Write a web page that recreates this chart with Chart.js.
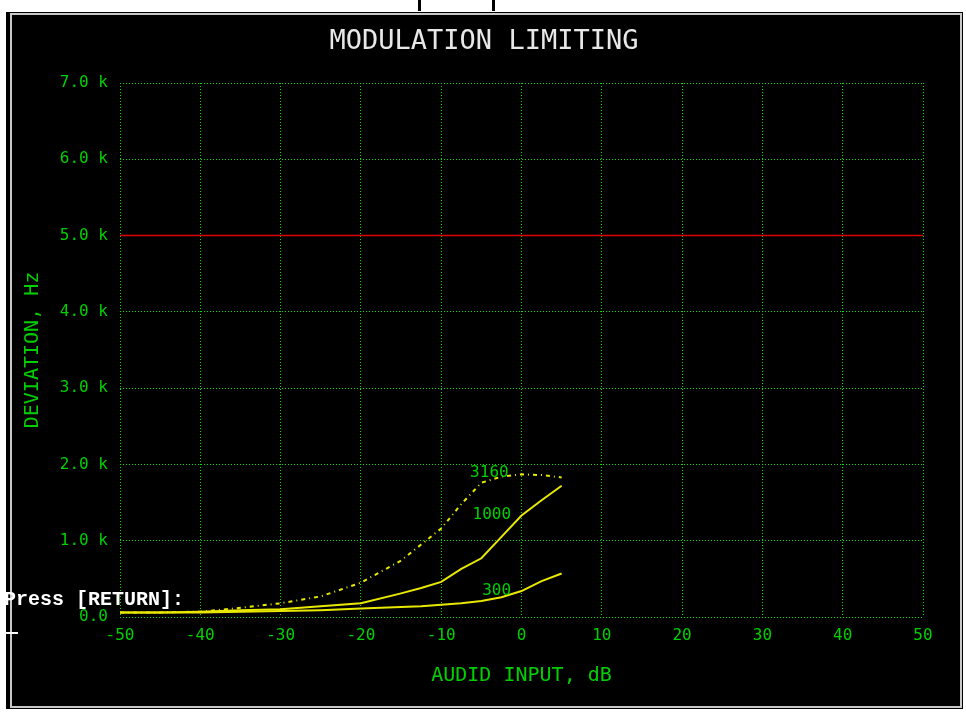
<!DOCTYPE html>
<html>
<head>
<meta charset="utf-8">
<title>Modulation Limiting</title>
<script src="https://cdn.jsdelivr.net/npm/chart.js@4"></script>
<style>
  html, body { margin: 0; padding: 0; background: #fff; overflow: hidden; }
  canvas { display: block; }
</style>
</head>
<body>
<canvas id="plot" width="966" height="713"></canvas>
<script>
// audio input level (dB)
const inputDb = [-50, -45, -40, -35, -30, -25, -20, -15, -12.5, -10, -7.5, -5, -2.5, 0, 2.5, 5];

// deviation (Hz) for each test tone
const dev300  = [60, 60, 60, 70, 80, 90, 110, 130, 140, 160, 180, 210, 260, 340, 470, 570];
const dev1000 = [60, 60, 70, 90, 100, 140, 180, 310, 380, 460, 630, 770, 1050, 1330, 1530, 1720];
const dev3160 = [60, 60, 70, 120, 180, 270, 450, 740, 950, 1160, 1480, 1760, 1840, 1870, 1860, 1830];

// 5 kHz deviation limit
const limitDb = [-50, 50];
const limitDev = [5000, 5000];

const curveNames = ['3160', '1000', '300'];

const GREEN = '#00d000';
const GRID = '#00e000';
const YELLOW = '#e8e800';
const MONO = '"DejaVu Sans Mono", monospace';

const toPoints = (xs, ys) => xs.map((x, i) => ({ x: x, y: ys[i] }));

// green curve labels, anchored in data coords next to the curve ends
const curveTags = [
    { text: curveNames[0], db: -4.0, dev: 1890 },
    { text: curveNames[1], db: -3.7, dev: 1340 },
    { text: curveNames[2], db: -3.1, dev: 340 }
];

const screenPlugin = {
    id: 'screen',
    beforeDraw(chart) {
        const ctx = chart.ctx;
        ctx.save();
        ctx.fillStyle = '#ffffff';
        ctx.fillRect(0, 0, chart.width, chart.height);
        ctx.fillStyle = '#000000';
        ctx.fillRect(6, 12, 957, 697);
        ctx.strokeStyle = '#c8c8c8';
        ctx.lineWidth = 2;
        ctx.strokeRect(11, 14, 950, 693);
        // marks at top edge
        ctx.fillStyle = '#000000';
        ctx.fillRect(418, 0, 3, 11);
        ctx.fillRect(492, 0, 3, 11);
        ctx.restore();
    },
    afterDraw(chart) {
        const ctx = chart.ctx;
        const xs = chart.scales.x, ys = chart.scales.y;
        ctx.save();

        // title
        ctx.fillStyle = '#e8e8e8';
        ctx.font = '27px ' + MONO;
        ctx.textAlign = 'center';
        ctx.textBaseline = 'middle';
        ctx.fillText('MODULATION LIMITING', 484, 42);

        // curve labels
        ctx.fillStyle = GREEN;
        ctx.font = '16px ' + MONO;
        curveTags.forEach(t => {
            ctx.fillText(t.text, xs.getPixelForValue(t.db), ys.getPixelForValue(t.dev));
        });

        // terminal prompt
        ctx.fillStyle = '#ffffff';
        ctx.font = 'bold 20px "Liberation Mono", monospace';
        ctx.textAlign = 'left';
        ctx.textBaseline = 'alphabetic';
        ctx.fillText('Press [RETURN]:', 4, 605);
        ctx.fillRect(4, 632, 14, 2);

        ctx.restore();
    }
};

new Chart(document.getElementById('plot').getContext('2d'), {
    type: 'line',
    data: {
        datasets: [
            {
                label: '5 kHz limit',
                data: toPoints(limitDb, limitDev),
                borderColor: '#e00000',
                borderWidth: 1.5
            },
            {
                label: curveNames[0],
                data: toPoints(inputDb, dev3160),
                borderColor: YELLOW,
                borderWidth: 2,
                borderDash: [4, 4, 1, 4]
            },
            {
                label: curveNames[1],
                data: toPoints(inputDb, dev1000),
                borderColor: YELLOW,
                borderWidth: 2
            },
            {
                label: curveNames[2],
                data: toPoints(inputDb, dev300),
                borderColor: YELLOW,
                borderWidth: 2
            }
        ]
    },
    options: {
        responsive: false,
        animation: false,
        devicePixelRatio: 1,
        elements: { point: { radius: 0 }, line: { tension: 0 } },
        layout: { padding: { left: 0, top: 83, right: 43, bottom: 0 } },
        plugins: {
            legend: { display: false },
            tooltip: { enabled: false },
            title: { display: false }
        },
        scales: {
            x: {
                type: 'linear',
                min: -50,
                max: 50,
                border: { display: false, dash: [1, 2] },
                grid: { color: GRID, lineWidth: 1, drawTicks: false },
                ticks: {
                    stepSize: 10,
                    color: GREEN,
                    padding: 9,
                    maxRotation: 0,
                    font: { family: MONO, size: 16 }
                },
                title: {
                    display: true,
                    text: 'AUDID INPUT, dB',
                    color: GREEN,
                    font: { family: MONO, size: 20 },
                    padding: { top: 0, bottom: 25 }
                },
                afterFit(scale) { scale.height = 96; }
            },
            y: {
                type: 'linear',
                min: 0,
                max: 7000,
                border: { display: false, dash: [1, 2] },
                grid: { color: GRID, lineWidth: 1, drawTicks: false },
                ticks: {
                    stepSize: 1000,
                    color: GREEN,
                    padding: 12,
                    font: { family: MONO, size: 16 },
                    callback: v => v === 0 ? '0.0' : (v / 1000).toFixed(1) + ' k'
                },
                title: {
                    display: true,
                    text: 'DEVIATION, Hz',
                    color: GREEN,
                    font: { family: MONO, size: 20 },
                    padding: { top: 21, bottom: 0 }
                },
                afterFit(scale) { scale.width = 120; }
            }
        }
    },
    plugins: [screenPlugin]
});
</script>
</body>
</html>
